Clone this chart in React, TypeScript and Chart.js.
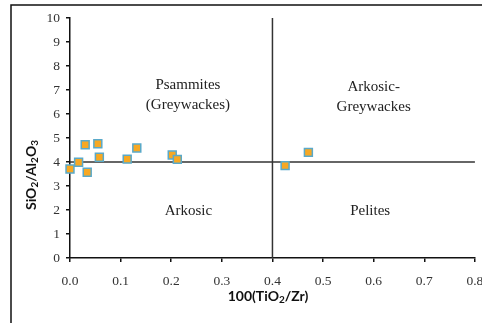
import React, { useEffect, useRef } from "react";
import { Chart, registerables } from "chart.js";

Chart.register(...registerables);

const sampleX = [0.0, 0.017, 0.03, 0.034, 0.055, 0.058, 0.113, 0.132, 0.202, 0.212, 0.425, 0.471];
const sampleY = [3.71, 3.99, 4.72, 3.57, 4.76, 4.2, 4.12, 4.58, 4.29, 4.11, 3.85, 4.4];

const xTicks = [0, 0.1, 0.2, 0.3, 0.4, 0.5, 0.6, 0.7, 0.8];
const yTicks = [0, 1, 2, 3, 4, 5, 6, 7, 8, 9, 10];

const dividerX = 0.4;
const dividerY = 4;

const regionNames = ["Psammites", "(Greywackes)", "Arkosic-", "Greywackes", "Arkosic", "Pelites"];
const regionX = [0.233, 0.233, 0.6, 0.6, 0.234, 0.593];
const regionY = [7.2, 6.37, 7.12, 6.29, 1.95, 1.95];

type Seg = { t: string; sub?: boolean };
const xTitle: Seg[] = [{ t: "100(TiO" }, { t: "2", sub: true }, { t: "/Zr)" }];
const yTitle: Seg[] = [
  { t: "SiO" },
  { t: "2", sub: true },
  { t: "/Al" },
  { t: "2", sub: true },
  { t: "O" },
  { t: "3", sub: true },
];

function drawSegs(ctx: CanvasRenderingContext2D, segs: Seg[], cx: number, cy: number, rot: number) {
  const main = "bold 14px Lato, 'Open Sans', sans-serif";
  const sub = "bold 10px Lato, 'Open Sans', sans-serif";
  let total = 0;
  const widths = segs.map((s) => {
    ctx.font = s.sub ? sub : main;
    const w = ctx.measureText(s.t).width;
    total += w;
    return w;
  });
  ctx.save();
  ctx.translate(cx, cy);
  ctx.rotate(rot);
  ctx.fillStyle = "#111";
  ctx.textBaseline = "middle";
  ctx.textAlign = "left";
  let x = -total / 2;
  segs.forEach((s, i) => {
    ctx.font = s.sub ? sub : main;
    ctx.fillText(s.t, x, s.sub ? 4 : 0);
    x += widths[i];
  });
  ctx.restore();
}

const decorPlugin = {
  id: "decor",
  beforeDraw(chart: any) {
    const ctx = chart.ctx as CanvasRenderingContext2D;
    ctx.save();
    ctx.strokeStyle = "#111";
    ctx.lineWidth = 1.5;
    ctx.beginPath();
    ctx.moveTo(11, chart.height + 2);
    ctx.lineTo(11, 5);
    ctx.lineTo(chart.width + 2, 5);
    ctx.stroke();
    ctx.restore();
  },
  afterDatasetsDraw(chart: any) {
    const ctx = chart.ctx as CanvasRenderingContext2D;
    const xs = chart.scales.x;
    const ys = chart.scales.y;
    ctx.save();
    ctx.font = "15px 'Liberation Serif', serif";
    ctx.fillStyle = "#222";
    ctx.textAlign = "center";
    ctx.textBaseline = "middle";
    regionNames.forEach((n, i) => {
      ctx.fillText(n, xs.getPixelForValue(regionX[i]), ys.getPixelForValue(regionY[i]));
    });
    ctx.restore();
    drawSegs(ctx, xTitle, 268, 296, 0);
    drawSegs(ctx, yTitle, 31, 175, -Math.PI / 2);
  },
};

export default function App() {
  const ref = useRef<HTMLCanvasElement | null>(null);
  useEffect(() => {
    document.body.style.margin = "0";
    const canvas = ref.current!;
    const tickFont = { family: "'Liberation Serif', serif", size: 13.5 };
    const chart = new Chart(canvas, {
      type: "scatter",
      data: {
        datasets: [
          {
            label: "Samples",
            data: sampleX.map((x, i) => ({ x, y: sampleY[i] })),
            pointStyle: "rect",
            pointRadius: 5.6,
            pointBackgroundColor: "#F7A823",
            pointBorderColor: "#5AA9C9",
            pointBorderWidth: 1.5,
            clip: false as any,
          },
          {
            label: "vertical",
            type: "line",
            data: [
              { x: dividerX, y: yTicks[0] },
              { x: dividerX, y: yTicks[yTicks.length - 1] },
            ],
            borderColor: "#333",
            borderWidth: 1.5,
            pointRadius: 0,
            showLine: true,
          },
          {
            label: "horizontal",
            type: "line",
            data: [
              { x: xTicks[0], y: dividerY },
              { x: xTicks[xTicks.length - 1], y: dividerY },
            ],
            borderColor: "#333",
            borderWidth: 1.5,
            pointRadius: 0,
            showLine: true,
          },
        ] as any,
      },
      options: {
        animation: false,
        responsive: false,
        layout: { padding: { top: 18, right: 6, bottom: 0, left: 0 } },
        plugins: { legend: { display: false }, tooltip: { enabled: false } },
        scales: {
          x: {
            type: "linear",
            min: xTicks[0],
            max: xTicks[xTicks.length - 1],
            afterBuildTicks: (s: any) => {
              s.ticks = xTicks.map((v) => ({ value: v }));
            },
            afterFit: (s: any) => {
              s.height = 65;
              s.paddingLeft = 0;
              s.paddingRight = 0;
            },
            grid: { drawOnChartArea: false, drawTicks: true, tickLength: 4, color: "#111", lineWidth: 1.5 },
            border: { display: true, color: "#111", width: 1.5 },
            ticks: {
              font: tickFont,
              color: "#333",
              padding: 11,
              maxRotation: 0,
              autoSkip: false,
              callback: (v: any) => Number(v).toFixed(1),
            },
          },
          y: {
            type: "linear",
            min: yTicks[0],
            max: yTicks[yTicks.length - 1],
            afterBuildTicks: (s: any) => {
              s.ticks = yTicks.map((v) => ({ value: v }));
            },
            afterFit: (s: any) => {
              s.width = 70;
              s.paddingTop = 0;
              s.paddingBottom = 0;
            },
            grid: { drawOnChartArea: false, drawTicks: true, tickLength: 4, color: "#111", lineWidth: 1.5 },
            border: { display: true, color: "#111", width: 1.5 },
            ticks: {
              font: tickFont,
              color: "#333",
              padding: 6,
              autoSkip: false,
              callback: (v: any) => String(v),
            },
          },
        },
      },
      plugins: [decorPlugin],
    });
    return () => chart.destroy();
  }, []);
  return (
    <div style={{ width: 482, height: 323 }}>
      <canvas ref={ref} width={482} height={323} style={{ display: "block", width: 482, height: 323 }} />
    </div>
  );
}
